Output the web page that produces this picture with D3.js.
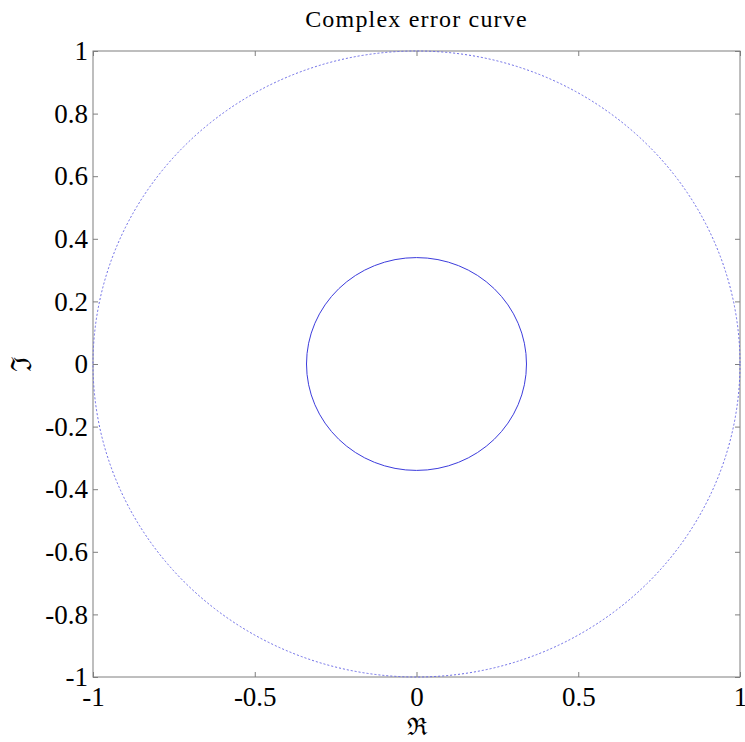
<!DOCTYPE html>
<html>
<head>
<meta charset="utf-8">
<script src="https://cdn.jsdelivr.net/npm/d3@7"></script>
<style>
    body { margin: 0; background: #fff; }
    svg text { font-family: "Liberation Serif", "Times New Roman", serif; fill: #000; }
</style>
</head>
<body>
<div id="chart"></div>
<script>
// curves: circles centred at the origin
const curveNames = ['error bound', 'error curve'];
const curveRadius = [1, 0.34];
const curveDash = ['2,2', null];
const curveColor = ['#6a6ae6', '#3c3cdc'];

const xTicks = [-1, -0.5, 0, 0.5, 1];
const yTicks = [-1, -0.8, -0.6, -0.4, -0.2, 0, 0.2, 0.4, 0.6, 0.8, 1];

const titleText = 'Complex error curve';
const xLabel = '\u211C';
const yLabel = '\u2111';

const width = 745;
const height = 742;
const margin = {top: 51, right: 5, bottom: 65, left: 93};
const svgWidth = width - margin.left - margin.right;
const svgHeight = height - margin.top - margin.bottom;

const x = d3.scaleLinear().domain([-1, 1]).range([0, svgWidth]);
const y = d3.scaleLinear().domain([-1, 1]).range([svgHeight, 0]);

const svg = d3.select('#chart')
    .append('svg')
    .attr('width', width)
    .attr('height', height)
    .append('g')
    .attr('transform', `translate(${margin.left},${margin.top})`);

// matlab style labels, plain hyphen for minus
const fmt = d => String(d).replace('\u2212', '-');

const xAxis = d3.axisBottom(x).tickValues(xTicks).tickFormat(fmt).tickSize(-5).tickSizeOuter(0).tickPadding(10);
const yAxis = d3.axisLeft(y).tickValues(yTicks).tickFormat(fmt).tickSize(-5).tickSizeOuter(0).tickPadding(5);
const xTop = d3.axisTop(x).tickValues(xTicks).tickFormat('').tickSize(-5).tickSizeOuter(0);
const yRight = d3.axisRight(y).tickValues(yTicks).tickFormat('').tickSize(-5).tickSizeOuter(0);

function styleAxis(g) {
    g.select('.domain').remove();
    g.selectAll('line').attr('stroke', '#7f7f7f');
    g.selectAll('text').style('font-size', '27px');
}

svg.append('g').attr('transform', `translate(0,${svgHeight})`).call(xAxis).call(styleAxis);
svg.append('g').call(yAxis).call(styleAxis);
svg.append('g').call(xTop).call(styleAxis);
svg.append('g').attr('transform', `translate(${svgWidth},0)`).call(yRight).call(styleAxis);

svg.append('rect')
    .attr('width', svgWidth)
    .attr('height', svgHeight)
    .attr('fill', 'none')
    .attr('stroke', '#7f7f7f')
    .attr('stroke-width', 1);

svg.selectAll('.curve')
    .data(curveRadius)
    .enter().append('ellipse')
    .attr('class', 'curve')
    .attr('cx', x(0))
    .attr('cy', y(0))
    .attr('rx', d => x(d) - x(0))
    .attr('ry', d => y(0) - y(d))
    .attr('fill', 'none')
    .attr('stroke', (d, i) => curveColor[i])
    .attr('stroke-width', 1)
    .attr('stroke-dasharray', (d, i) => curveDash[i]);

svg.append('text')
    .attr('x', svgWidth / 2)
    .attr('y', -24)
    .attr('text-anchor', 'middle')
    .style('font-size', '24px')
    .style('letter-spacing', '1.2px')
    .text(titleText);

svg.append('text')
    .attr('x', svgWidth / 2)
    .attr('y', svgHeight + 58)
    .attr('text-anchor', 'middle')
    .style('font-family', '"DejaVu Serif", serif')
    .style('font-size', '24px')
    .text(xLabel);

svg.append('text')
    .attr('transform', `translate(-62,${svgHeight / 2}) rotate(-90)`)
    .attr('text-anchor', 'middle')
    .style('font-family', '"DejaVu Serif", serif')
    .style('font-size', '28px')
    .text(yLabel);
</script>
</body>
</html>
